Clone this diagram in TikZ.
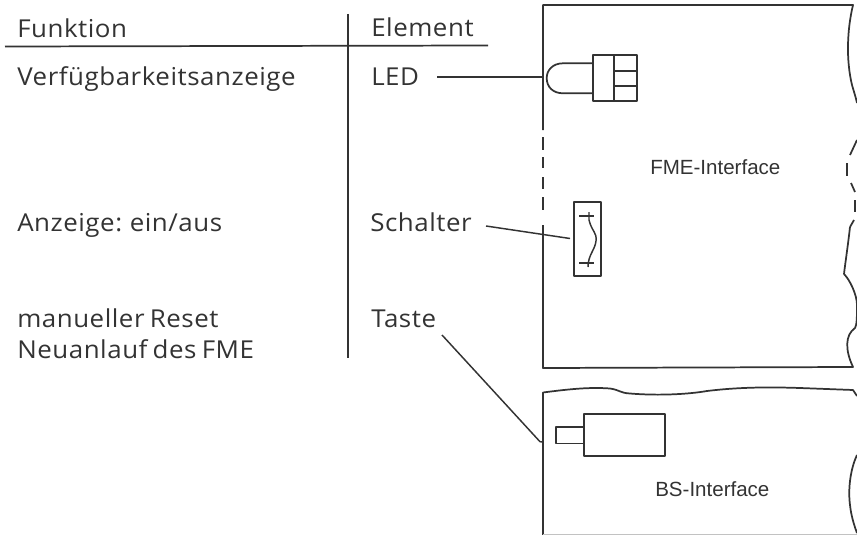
\documentclass[tikz,border=0pt]{standalone}
\usepackage{fontspec}
\setmainfont{Open Sans}
\newfontfamily\tabfont[LetterSpace=2.2,WordSpace=0.72,FakeStretch=1.05]{Open Sans}
\newfontfamily\labelfont{Liberation Sans}
\definecolor{ink}{HTML}{333333}
\tikzset{
  ln/.style={draw=ink,line width=1.3pt,line join=round},
  thin ln/.style={draw=ink,line width=1.1pt,line join=round},
  tabletext/.style={inner sep=0pt,anchor=base west,text=ink,font=\tabfont\fontsize{18.5}{20}\selectfont},
  boardlabel/.style={inner sep=0pt,anchor=base west,text=ink,font=\labelfont\fontsize{15.4}{18}\selectfont},
}
\begin{document}
\begin{tikzpicture}[x=0.75pt,y=-0.75pt]
\useasboundingbox (0,0) rectangle (857,535);
% table
\draw[ln] (5,46.5) -- (488,45.5);
\draw[ln] (348,14) -- (348,358);
\node[tabletext] (h1) at (17,38) {Funktion};
\node[tabletext] (h2) at (371,37) {Element};
\node[tabletext] (f1) at (17,86) {Verfügbarkeitsanzeige};
\node[tabletext] (e1) at (371,85.5) {LED};
\node[tabletext] (f2) at (17,231) {Anzeige: ein/aus};
\node[tabletext] (e2) at (370,231) {Schalter};
\node[tabletext] (f3) at (17,327) {manueller Reset};
\node[tabletext] (e3) at (371,327) {Taste};
\node[tabletext] (f4) at (17,358) {Neuanlauf des FME};
% FME board
\draw[ln] (543,130) -- (543,5) -- (853,5) .. controls (847,30) and (846,60) .. (852,85) .. controls (854,92) and (856,98) .. (857,103);
\draw[ln] (857,140) -- (850,155);
\draw[ln] (847,163) -- (847,176);
\draw[ln] (851,183) -- (855,192);
\draw[ln] (855,200) -- (855,212);
\draw[ln] (854,220) -- (850,227);
\draw[ln] (850,227) .. controls (848,245) and (845,265) .. (844,274) .. controls (850,280) and (857,295) .. (857,305) .. controls (857,315) and (857,325) .. (855,328) .. controls (845,335) and (845,350) .. (853,367) -- (543,368) -- (543,225);
\foreach \a/\b in {137/150,157/168,177/189,197/210}
  \draw[ln] (543,\a) -- (543,\b);
\node[boardlabel] (fme) at (650,174) {FME-Interface};
% LED
\draw[ln] (593.3,55) rectangle (636.7,101);
\draw[ln] (614,55) -- (614,101);
\draw[ln] (614,71) -- (636.7,71);
\draw[ln] (614,86) -- (636.7,86);
\draw[ln] (593.3,63.3) -- (563,63.3) .. controls (553,63.3) and (546.7,70) .. (546.7,78) .. controls (546.7,87) and (553,93.3) .. (563,93.3) -- (593.3,93.3);
% switch
\draw[ln] (574,202) rectangle (601.3,276);
\draw[thin ln] (589,212) -- (589,220) .. controls (592,232) and (597,232) .. (596,241) .. controls (595,250) and (588,255) .. (588,267);
\draw[thin ln] (579,216) -- (594,216);
\draw[thin ln] (579,263) -- (594,263);
% BS board
\draw[ln] (543,535) -- (543,392.5) .. controls (570,389) and (590,387) .. (610,388.5) .. controls (620,390) and (620,393) .. (630,393.5) .. controls (660,396) and (690,394) .. (707,391) .. controls (740,387) and (770,387) .. (800,388) -- (853,390) -- (857,396);
\draw[ln] (857,455) .. controls (850,470) and (848,490) .. (850,505) .. controls (851,515) and (854,525) .. (857,533);
\draw[draw=ink!30,line width=0.8pt] (543,534.6) -- (857,534.6);
\draw[ln] (584.3,414) rectangle (665,456);
\draw[ln] (584.3,427) -- (555.7,427) -- (555.7,443.5) -- (584.3,443.5);
\node[boardlabel] (bs) at (655,496) {BS-Interface};
% leaders
\coordinate (l1a) at (437,77); \coordinate (l1b) at (543,77);
\coordinate (l2a) at (486,226); \coordinate (l2b) at (570,238.5);
\coordinate (l3a) at (442,335); \coordinate (l3k) at (540,441.7); \coordinate (l3b) at (543,442);
\draw[ln] (l1a) -- (l1b);
\draw[thin ln] (l2a) -- (l2b);
\draw[thin ln] (l3a) -- (l3k) -- (l3b);
\end{tikzpicture}
\end{document}
